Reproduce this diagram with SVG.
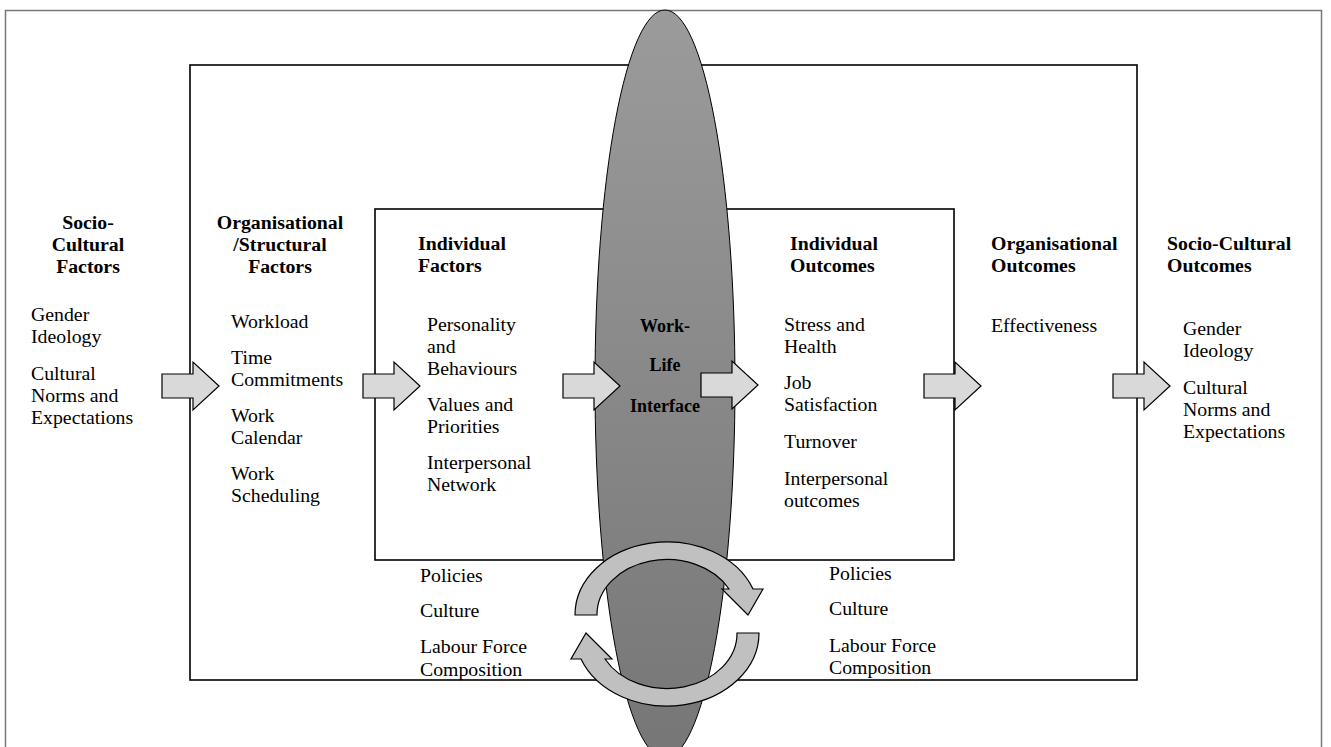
<svg xmlns="http://www.w3.org/2000/svg" width="1331" height="747" viewBox="0 0 1331 747">
<defs>
<linearGradient id="eg" x1="0" y1="0" x2="0" y2="1">
<stop offset="0" stop-color="#9b9b9b"/>
<stop offset="1" stop-color="#767676"/>
</linearGradient>
<path id="blk" d="M0,-12 H31 V-24 L57,0 L31,24 V12 H0 Z"/>
<path id="circ" d="M575,615 A92,73 0 0 1 753,589 L763,589 L748,615 L722,589 L729,589 A70,55 0 0 0 597,615 Z"/>
</defs>
<style>
text{font-family:"Liberation Serif","Times New Roman","DejaVu Serif",serif;font-size:19.8px;fill:#000}
.h{font-weight:bold}
.c{text-anchor:middle}
.wl{font-weight:bold;font-size:18px;text-anchor:middle}
.frame{fill:none;stroke:#000;stroke-width:1.6}
.blk{fill:#d9d9d9;stroke:#000;stroke-width:1.2}
.circ{fill:#c0c0c0;stroke:#000;stroke-width:1.2}
</style>
<rect width="1331" height="747" fill="#fff"/>
<g id="frames">
<path d="M5.5,760 V10.5 H1321.5 V760" fill="none" stroke="#777" stroke-width="1.5"/>
<rect class="frame" x="190" y="65" width="947" height="615"/>
<rect class="frame" x="375" y="209" width="579" height="351"/>
</g>
<g id="worklife">
<ellipse cx="665" cy="384" rx="70" ry="374" fill="url(#eg)" stroke="#000" stroke-width="1"/>
<text class="wl" x="665" y="332">Work-</text>
<text class="wl" x="665" y="371">Life</text>
<text class="wl" x="665" y="412">Interface</text>
</g>
<g id="connectors">
<use href="#blk" class="blk" x="162" y="386"/>
<use href="#blk" class="blk" x="363" y="386"/>
<use href="#blk" class="blk" x="563" y="386"/>
<use href="#blk" class="blk" x="701" y="385"/>
<use href="#blk" class="blk" x="924" y="386"/>
<use href="#blk" class="blk" x="1113" y="386"/>
<use href="#circ" class="circ"/>
<use href="#circ" class="circ" transform="rotate(180 667 624)"/>
</g>
<g id="socio-cultural-factors">
<text class="h c" x="88" y="229">Socio-</text>
<text class="h c" x="88" y="251">Cultural</text>
<text class="h c" x="88" y="273">Factors</text>
<text x="31" y="321">Gender</text>
<text x="31" y="343">Ideology</text>
<text x="31" y="380">Cultural</text>
<text x="31" y="402">Norms and</text>
<text x="31" y="424">Expectations</text>
</g>
<g id="organisational-factors">
<text class="h c" x="280" y="229">Organisational</text>
<text class="h c" x="280" y="251">/Structural</text>
<text class="h c" x="280" y="273">Factors</text>
<text x="231" y="328">Workload</text>
<text x="231" y="364">Time</text>
<text x="231" y="386">Commitments</text>
<text x="231" y="422">Work</text>
<text x="231" y="444">Calendar</text>
<text x="231" y="480">Work</text>
<text x="231" y="502">Scheduling</text>
</g>
<g id="individual-factors">
<text class="h" x="418" y="250">Individual</text>
<text class="h" x="418" y="272">Factors</text>
<text x="427" y="331">Personality</text>
<text x="427" y="353">and</text>
<text x="427" y="375">Behaviours</text>
<text x="427" y="411">Values and</text>
<text x="427" y="433">Priorities</text>
<text x="427" y="469">Interpersonal</text>
<text x="427" y="491">Network</text>
</g>
<g id="individual-outcomes">
<text class="h" x="790" y="250">Individual</text>
<text class="h" x="790" y="272">Outcomes</text>
<text x="784" y="331">Stress and</text>
<text x="784" y="353">Health</text>
<text x="784" y="389">Job</text>
<text x="784" y="411">Satisfaction</text>
<text x="784" y="448">Turnover</text>
<text x="784" y="485">Interpersonal</text>
<text x="784" y="507">outcomes</text>
</g>
<g id="organisational-outcomes">
<text class="h" x="991" y="250">Organisational</text>
<text class="h" x="991" y="272">Outcomes</text>
<text x="991" y="332">Effectiveness</text>
</g>
<g id="socio-cultural-outcomes">
<text class="h" x="1167" y="250">Socio-Cultural</text>
<text class="h" x="1167" y="272">Outcomes</text>
<text x="1183" y="335">Gender</text>
<text x="1183" y="357">Ideology</text>
<text x="1183" y="394">Cultural</text>
<text x="1183" y="416">Norms and</text>
<text x="1183" y="438">Expectations</text>
</g>
<g id="context-left">
<text x="420" y="582">Policies</text>
<text x="420" y="617">Culture</text>
<text x="420" y="653">Labour Force</text>
<text x="420" y="676">Composition</text>
</g>
<g id="context-right">
<text x="829" y="580">Policies</text>
<text x="829" y="615">Culture</text>
<text x="829" y="652">Labour Force</text>
<text x="829" y="674">Composition</text>
</g>
</svg>
